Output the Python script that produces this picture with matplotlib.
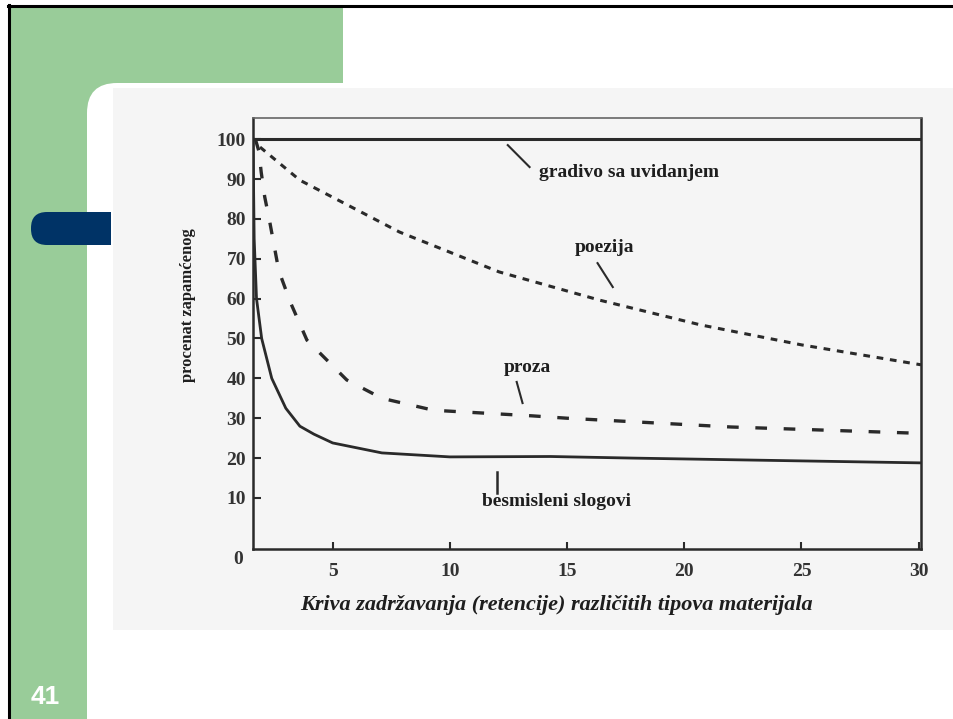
import matplotlib
matplotlib.use("Agg")
import matplotlib.pyplot as plt
from matplotlib.patches import Rectangle, FancyBboxPatch

# --- data ---
gradivo_x = [1.6, 30.1]
gradivo_y = [100, 100]

poezija_x = [1.9, 3.6, 7.85, 12.1, 16.4, 20.7, 25.0, 30.1]
poezija_y = [98, 89.7, 76.7, 66.7, 59.6, 53.4, 48.4, 43.4]

proza_x = [1.7, 1.85, 1.95, 2.1, 2.3, 2.7, 3.2, 3.9, 5.6, 7.1, 9.3, 13.5, 15, 22, 30.1]
proza_y = [100, 97, 91.7, 85.5, 79.7, 67, 59, 49.6, 39.6, 35, 32, 30.6, 30, 27.8, 26.2]

besmisleni_x = [1.6, 1.65, 1.75, 1.97, 2.4, 3.0, 3.6, 4.2, 5, 7.1, 10, 14.3, 17.8, 30.1]
besmisleni_y = [100, 75, 60, 50, 40, 32.5, 28, 26, 23.8, 21.3, 20.3, 20.4, 20, 18.8]

x_ticks = [5, 10, 15, 20, 25, 30]
y_ticks = [10, 20, 30, 40, 50, 60, 70, 80, 90, 100]

GREEN = "#99CC99"
NAVY = "#003366"
INK = "#2a2a2a"
SERIF = "Liberation Serif"

W, H = 954, 719
fig = plt.figure(figsize=(W / 100, H / 100), dpi=100)
fig.patch.set_facecolor("white")

# slide decoration layer in pixel coordinates
bg = fig.add_axes([0, 0, 1, 1], zorder=0)
bg.set_xlim(0, W)
bg.set_ylim(H, 0)
bg.axis("off")

bg.add_patch(Rectangle((10, 7), 333, 110, facecolor=GREEN, edgecolor="none"))
bg.add_patch(Rectangle((10, 7), 110, 712, facecolor=GREEN, edgecolor="none"))
bg.add_patch(FancyBboxPatch((87 + 30, 83 + 30), 1000, 1000,
                            boxstyle="round,pad=30,rounding_size=30",
                            facecolor="white", edgecolor="none"))
# faint scan background
bg.add_patch(Rectangle((113, 88), 841, 542, facecolor="#f5f5f5", edgecolor="none"))

# slide border
bg.plot([9, 9], [5, 719], color="black", lw=2.2)
bg.plot([8, 954], [6, 6], color="black", lw=2.2)

# navy pill
bg.add_patch(FancyBboxPatch((31, 212), 60, 33, boxstyle="round,pad=0,rounding_size=16",
                            facecolor=NAVY, edgecolor="none"))
bg.add_patch(Rectangle((60, 212), 51, 33, facecolor=NAVY, edgecolor="none"))

bg.text(45, 697, "41", color="white", fontsize=19, fontweight="bold",
        family="Liberation Sans", ha="center", va="center")

# --- chart ---
left, right, top, bottom = 253, 921, 118, 549
ax = fig.add_axes([left / W, 1 - bottom / H, (right - left) / W, (bottom - top) / H], zorder=2)
ax.set_facecolor("none")

ax.plot(gradivo_x, gradivo_y, color=INK, lw=2.2, solid_capstyle="butt")
ax.plot(poezija_x, poezija_y, color=INK, lw=2.2, dashes=(2.2, 2.2))
ax.plot(proza_x, proza_y, color=INK, lw=2.4, dashes=(3.5, 5))
ax.plot(besmisleni_x, besmisleni_y, color=INK, lw=2.0)

ax.set_xlim(1.6, 30.1)
ax.set_ylim(-2.8, 105.3)
ax.set_xticks(x_ticks)
ax.set_yticks(y_ticks)
ax.tick_params(axis="both", direction="in", colors=INK, labelcolor="#333333")
ax.tick_params(axis="y", length=6, width=1.5, pad=5, labelsize=14)
ax.tick_params(axis="x", length=5, width=1.5, pad=10, labelsize=14)
for lab in ax.get_xticklabels() + ax.get_yticklabels():
    lab.set_family(SERIF)
    lab.set_fontweight("bold")

for side in ["left", "bottom", "right"]:
    ax.spines[side].set_color(INK)
    ax.spines[side].set_linewidth(1.8)
ax.spines["top"].set_color("#666666")
ax.spines["top"].set_linewidth(1.2)

lbl = dict(family=SERIF, fontweight="bold", fontsize=14, color="#1e1e1e")
ax.text(13.8, 91.7, "gradivo sa uvidanjem", ha="left", va="center", **lbl)
ax.plot([12.47, 13.4], [98.5, 93.0], color=INK, lw=1.5)
ax.text(16.6, 72.7, "poezija", ha="center", va="center", **lbl)
ax.plot([16.3, 16.95], [68.9, 62.9], color=INK, lw=1.5)
ax.text(13.3, 42.6, "proza", ha="center", va="center", **lbl)
ax.plot([12.85, 13.1], [39.1, 33.8], color=INK, lw=1.5)
ax.text(14.55, 9.0, "besmisleni slogovi", ha="center", va="center", **lbl)
ax.plot([12.0, 12.0], [16.5, 11.3], color=INK, lw=1.8)

bg.text(238, 560, "0", family=SERIF, fontweight="bold", fontsize=14,
        color="#333333", ha="center", va="center")
bg.text(188, 305, "procenat zapamćenog", family=SERIF, fontweight="bold",
        fontsize=12, color="#1e1e1e", rotation=90, ha="center", va="center")
bg.text(556, 605, "Kriva zadržavanja (retencije) različitih tipova materijala",
        family=SERIF, fontweight="bold", style="italic", fontsize=16,
        color="#1e1e1e", ha="center", va="center")

fig.savefig("out.png", dpi=100)
